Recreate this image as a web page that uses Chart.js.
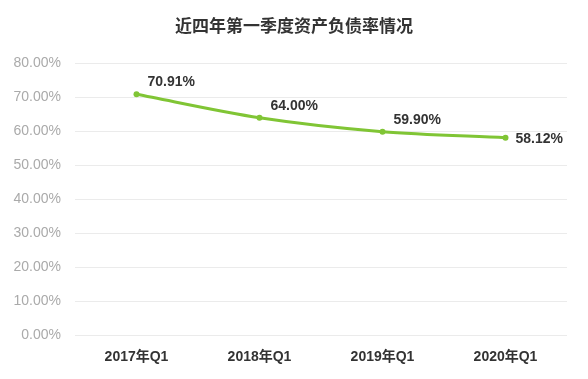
<!DOCTYPE html>
<html><head><meta charset="utf-8">
<script src="https://cdn.jsdelivr.net/npm/chart.js@4/dist/chart.umd.min.js"></script>
<style>html,body{margin:0;padding:0;background:#fff;}#wrap{width:588px;height:379px;position:relative;}</style>
</head><body><div id="wrap"><canvas id="c" width="588" height="379"></canvas></div>
<script>
const chartTitle = '近四年第一季度资产负债率情况';
const categories = ['2017年Q1', '2018年Q1', '2019年Q1', '2020年Q1'];
const debtRatio = [70.91, 64.00, 59.90, 58.12];
const yTicks = [0, 10, 20, 30, 40, 50, 60, 70, 80];

const FONT = "'Liberation Sans', 'Noto Sans CJK SC', sans-serif";
const TITLE_FONT = "bold 17px 'Noto Sans CJK SC', sans-serif";
const GREEN = '#80c535';

const labelPlugin = {
  id: 'pointLabels',
  afterDatasetsDraw(chart) {
    const ctx = chart.ctx;
    const meta = chart.getDatasetMeta(0);
    ctx.save();
    ctx.font = "bold 14px " + FONT;
    ctx.fillStyle = '#333333';
    ctx.textBaseline = 'middle';
    meta.data.forEach((pt, i) => {
      const txt = debtRatio[i].toFixed(2) + '%';
      ctx.textAlign = 'left';
      if (i === meta.data.length - 1) {
        ctx.fillText(txt, pt.x + 10, pt.y + 1);
      } else {
        ctx.fillText(txt, pt.x + 11, pt.y - 12);
      }
    });
    ctx.restore();
  }
};

const centeredTitle = {
  id: 'centeredTitle',
  afterDraw(chart) {
    const t = chart.titleBlock;
    const ctx = chart.ctx;
    ctx.save();
    ctx.font = TITLE_FONT;
    ctx.fillStyle = '#333333';
    ctx.textAlign = 'center';
    ctx.textBaseline = 'middle';
    const y = t ? (t.top + 11 + (t.bottom - 28 - (t.top + 11)) / 2) : 25;
    ctx.fillText(chartTitle, chart.width / 2, y);
    ctx.restore();
  }
};

new Chart(document.getElementById('c'), {
  type: 'line',
  data: {
    labels: categories,
    datasets: [{
      data: debtRatio,
      borderColor: GREEN,
      backgroundColor: GREEN,
      borderWidth: 3,
      pointRadius: 3,
      pointBackgroundColor: GREEN,
      pointBorderWidth: 0,
      tension: 0.3,
      fill: false
    }]
  },
  options: {
    responsive: false,
    animation: false,
    devicePixelRatio: 1,
    layout: { padding: { left: 10, right: 21, top: 4, bottom: -1 } },
    plugins: {
      legend: { display: false },
      tooltip: { enabled: false },
      title: {
        display: true,
        text: chartTitle,
        color: 'rgba(0,0,0,0)',
        font: { family: "'Noto Sans CJK SC', sans-serif", size: 17, weight: 'bold' },
        padding: { top: 11, bottom: 28 }
      }
    },
    scales: {
      x: {
        offset: true,
        grid: { display: false, drawTicks: false },
        border: { display: false },
        ticks: {
          color: '#333333',
          font: { family: FONT, size: 14, weight: 'bold' },
          padding: 14
        }
      },
      y: {
        min: 0, max: 80,
        afterBuildTicks(axis) { axis.ticks = yTicks.map(v => ({ value: v })); },
        afterFit(axis) { axis.width = 65; },
        grid: { color: '#ebebeb', lineWidth: 1, drawTicks: false },
        border: { display: false },
        ticks: {
          color: '#aaaaaa',
          font: { family: FONT, size: 14 },
          padding: 14,
          callback: v => v.toFixed(2) + '%'
        }
      }
    }
  },
  plugins: [labelPlugin, centeredTitle]
});
</script></body></html>
